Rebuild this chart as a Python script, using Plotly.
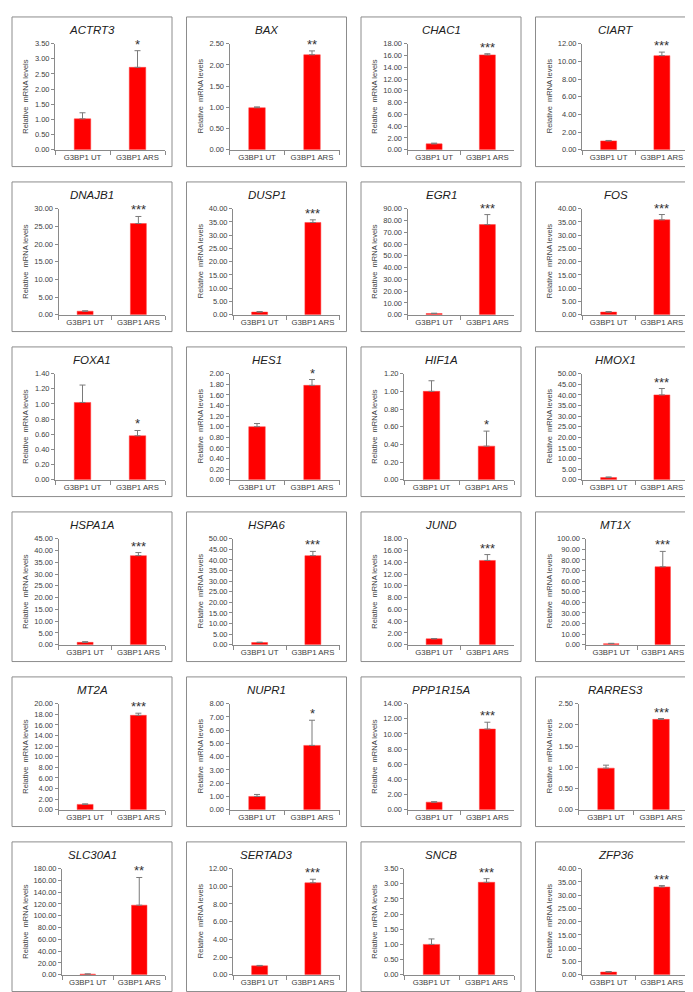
import plotly.graph_objects as go
from plotly.subplots import make_subplots

categories = ["G3BP1 UT", "G3BP1 ARS"]

genes = ["ACTRT3", "BAX", "CHAC1", "CIART",
         "DNAJB1", "DUSP1", "EGR1", "FOS",
         "FOXA1", "HES1", "HIF1A", "HMOX1",
         "HSPA1A", "HSPA6", "JUND", "MT1X",
         "MT2A", "NUPR1", "PPP1R15A", "RARRES3",
         "SLC30A1", "SERTAD3", "SNCB", "ZFP36"]

ut_mean = [1.02, 0.99, 1.00, 1.00,
           1.00, 1.00, 1.00, 1.00,
           1.02, 1.00, 1.00, 1.00,
           1.00, 1.00, 1.00, 1.00,
           1.00, 1.00, 1.00, 0.98,
           1.00, 1.00, 1.00, 1.00]
ut_err = [0.20, 0.02, 0.12, 0.05,
          0.10, 0.20, 0.30, 0.20,
          0.23, 0.06, 0.12, 0.30,
          0.30, 0.20, 0.05, 0.30,
          0.10, 0.15, 0.05, 0.07,
          0.30, 0.05, 0.18, 0.20]
ars_mean = [2.72, 2.24, 16.10, 10.65,
            25.80, 34.80, 76.50, 35.80,
            0.58, 1.78, 0.38, 40.00,
            37.80, 42.00, 14.30, 73.50,
            17.80, 4.85, 10.65, 2.13,
            118.00, 10.40, 3.05, 33.10]
ars_err = [0.55, 0.09, 0.20, 0.40,
           2.00, 1.00, 8.50, 2.00,
           0.07, 0.11, 0.17, 3.00,
           1.30, 2.00, 1.00, 14.50,
           0.40, 1.90, 0.90, 0.02,
           47.00, 0.40, 0.12, 0.50]
y_max = [3.5, 2.5, 18, 12,
         30, 40, 90, 40,
         1.4, 2.0, 1.2, 50,
         45, 50, 18, 100,
         20, 8, 14, 2.5,
         180, 12, 3.5, 40]
y_step = [0.5, 0.5, 2, 2,
          5, 5, 10, 5,
          0.2, 0.2, 0.2, 5,
          5, 5, 2, 10,
          2, 1, 2, 0.5,
          20, 2, 0.5, 5]
stars = ["*", "**", "***", "***",
         "***", "***", "***", "***",
         "*", "*", "*", "***",
         "***", "***", "***", "***",
         "***", "*", "***", "***",
         "**", "***", "***", "***"]

y_title = "Relative  mRNA levels"

W, H = 693, 992
col_left = [4, 178.5, 353, 527.5]
row_top = [5, 171.5, 338, 504.5, 671, 837.5]
BOX_W, BOX_H = 160, 151
FONT = "Liberation Sans, Arial, sans-serif"
AXIS_COL = "#8a8a8a"
TEXT_COL = "#404040"
TICK_SIZE = 7.5

fig = make_subplots(rows=6, cols=4)
shapes = []
annotations = []

for k, g in enumerate(genes):
    r, c = divmod(k, 4)
    bx, by = col_left[c], row_top[r]
    # left edge of plot area depends on width of the widest tick label
    nchar = len("%.2f" % y_max[k])
    axis_off = 43 + (nchar - 4) * 3.5
    fig.add_trace(go.Bar(
        x=categories, y=[ut_mean[k], ars_mean[k]], width=0.3,
        marker=dict(color="#ff0000", line=dict(color="#ff4040", width=0.5)),
        error_y=dict(type="data", symmetric=False,
                     array=[ut_err[k], ars_err[k]], arrayminus=[0, 0],
                     color="#7a7a7a", thickness=1, width=3),
        showlegend=False, hoverinfo="skip"), row=r + 1, col=c + 1)
    sx = "" if k == 0 else str(k + 1)
    x0, x1 = (bx + axis_off) / W, (bx + 153) / W
    y0, y1 = 1 - (by + 134) / H, 1 - (by + 27) / H
    fig.layout["xaxis" + sx].update(
        domain=[x0, x1], showline=True, linecolor=AXIS_COL, linewidth=1,
        ticks="outside", ticklen=4, tickcolor=AXIS_COL, tickson="boundaries",
        tickangle=0, showgrid=False, zeroline=False, fixedrange=True,
        tickfont=dict(family=FONT, size=7.8, color=TEXT_COL))
    fig.layout["yaxis" + sx].update(
        domain=[y0, y1], range=[0, y_max[k]], tick0=0, dtick=y_step[k],
        tickformat=".2f", showline=True, linecolor=AXIS_COL, linewidth=1,
        ticks="outside", ticklen=3, tickcolor=AXIS_COL,
        showgrid=False, zeroline=False, fixedrange=True,
        tickfont=dict(family=FONT, size=TICK_SIZE, color=TEXT_COL))
    shapes.append(dict(type="rect", xref="paper", yref="paper",
                       x0=bx / W, x1=(bx + BOX_W) / W,
                       y0=1 - (by + BOX_H) / H, y1=1 - by / H,
                       line=dict(color="#8c8c8c", width=1), fillcolor="rgba(0,0,0,0)"))
    annotations.append(dict(xref="paper", yref="paper",
                            x=(bx + BOX_W / 2) / W, y=1 - (by + 13) / H,
                            text="<i>%s</i>" % g, showarrow=False,
                            xanchor="center", yanchor="middle",
                            font=dict(family=FONT, size=11.5, color="#202020")))
    annotations.append(dict(xref="paper", yref="paper",
                            x=(bx + 14) / W, y=(y0 + y1) / 2,
                            text=y_title, textangle=-90, showarrow=False,
                            xanchor="center", yanchor="middle",
                            font=dict(family=FONT, size=7.5, color=TEXT_COL)))
    annotations.append(dict(xref="x" + sx, yref="y" + sx,
                            x=categories[1], y=ars_mean[k] + ars_err[k],
                            text=stars[k], showarrow=False,
                            xanchor="center", yanchor="bottom", yshift=-3,
                            font=dict(family=FONT, size=13, color="#303030")))

fig.update_layout(width=W, height=H, margin=dict(l=0, r=0, t=0, b=0),
                  paper_bgcolor="white", plot_bgcolor="white",
                  shapes=shapes, annotations=annotations, showlegend=False)
fig.write_html("out.html")
